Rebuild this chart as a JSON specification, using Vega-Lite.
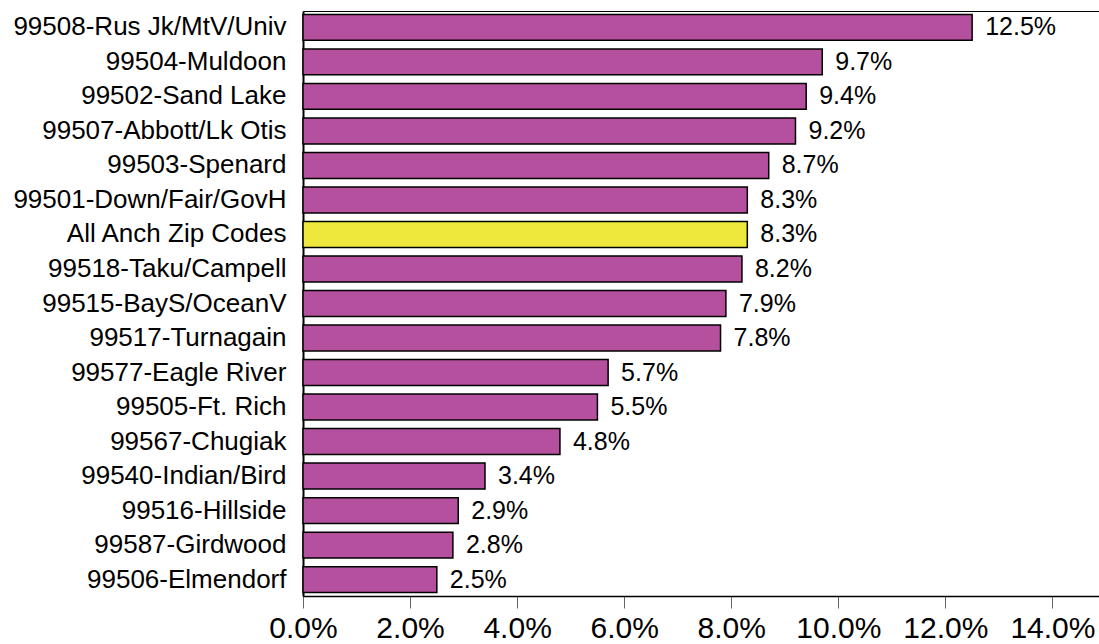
{
  "$schema": "https://vega.github.io/schema/vega-lite/v6.json",
  "width": 796,
  "height": 585,
  "autosize": {"type": "none"},
  "padding": {"left": 303, "top": 11, "right": 0, "bottom": 48},
  "background": "white",
  "config": {
    "font": "Liberation Sans",
    "view": {"stroke": "black", "strokeWidth": 1}
  },
  "data": {
    "values": [
      {"zip": "99508-Rus Jk/MtV/Univ", "pct": 12.5, "all": false},
      {"zip": "99504-Muldoon", "pct": 9.7, "all": false},
      {"zip": "99502-Sand Lake", "pct": 9.4, "all": false},
      {"zip": "99507-Abbott/Lk Otis", "pct": 9.2, "all": false},
      {"zip": "99503-Spenard", "pct": 8.7, "all": false},
      {"zip": "99501-Down/Fair/GovH", "pct": 8.3, "all": false},
      {"zip": "All Anch Zip Codes", "pct": 8.3, "all": true},
      {"zip": "99518-Taku/Campell", "pct": 8.2, "all": false},
      {"zip": "99515-BayS/OceanV", "pct": 7.9, "all": false},
      {"zip": "99517-Turnagain", "pct": 7.8, "all": false},
      {"zip": "99577-Eagle River", "pct": 5.7, "all": false},
      {"zip": "99505-Ft. Rich", "pct": 5.5, "all": false},
      {"zip": "99567-Chugiak", "pct": 4.8, "all": false},
      {"zip": "99540-Indian/Bird", "pct": 3.4, "all": false},
      {"zip": "99516-Hillside", "pct": 2.9, "all": false},
      {"zip": "99587-Girdwood", "pct": 2.8, "all": false},
      {"zip": "99506-Elmendorf", "pct": 2.5, "all": false}
    ]
  },
  "encoding": {
    "y": {
      "field": "zip",
      "type": "nominal",
      "sort": null,
      "scale": {"paddingInner": 0.25, "paddingOuter": 0.1},
      "axis": {
        "title": null,
        "ticks": false,
        "domainColor": "black",
        "domainWidth": 2,
        "labelFontSize": 26,
        "labelColor": "black",
        "labelPadding": 17,
        "labelFont": "Liberation Sans",
        "labelLimit": 400
      }
    },
    "x": {
      "field": "pct",
      "type": "quantitative",
      "scale": {"domain": [0, 14.87], "nice": false, "zero": true},
      "axis": {
        "title": null,
        "grid": false,
        "values": [0, 2, 4, 6, 8, 10, 12, 14],
        "labelExpr": "format(datum.value, '.1f') + '%'",
        "domainColor": "black",
        "domainWidth": 1.5,
        "tickColor": "#666666",
        "tickSize": 12,
        "tickWidth": 1,
        "labelFontSize": 30,
        "labelColor": "black",
        "labelPadding": 5,
        "labelFlush": false,
        "labelOverlap": false,
        "labelFont": "Liberation Sans"
      }
    }
  },
  "layer": [
    {
      "mark": {"type": "bar", "stroke": "black", "strokeWidth": 1.5},
      "encoding": {
        "color": {
          "field": "all",
          "type": "nominal",
          "scale": {"domain": [false, true], "range": ["#B4509E", "#EEE83C"]},
          "legend": null
        }
      }
    },
    {
      "mark": {
        "type": "text",
        "align": "left",
        "baseline": "middle",
        "dx": 13,
        "fontSize": 25,
        "color": "black",
        "font": "Liberation Sans",
        "text": {"expr": "format(datum.pct, '.1f') + '%'"}
      },
      "encoding": {}
    }
  ]
}
